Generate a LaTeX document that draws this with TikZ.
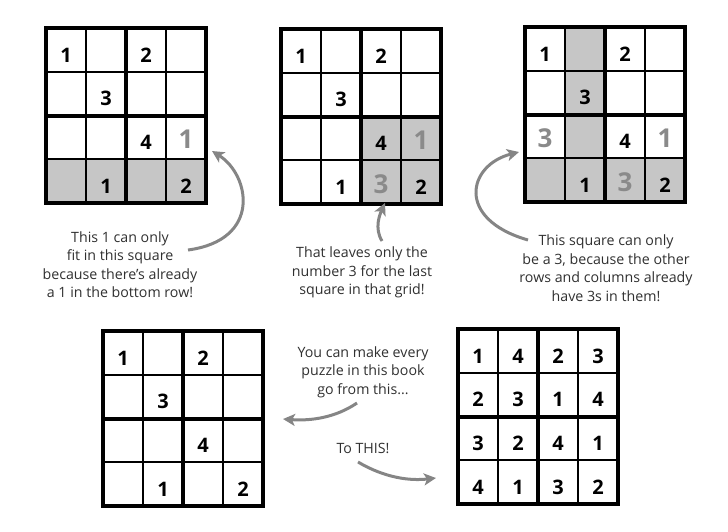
\documentclass[tikz,border=0pt]{standalone}
\usepackage{fontspec}
\setmainfont{Open Sans}
\usetikzlibrary{arrows.meta,backgrounds}

\definecolor{shadegray}{HTML}{C6C6C6}
\definecolor{hintgray}{HTML}{8A8A8A}
\definecolor{arrowgray}{HTML}{858585}
\definecolor{textgray}{HTML}{303030}

% one 4x4 grid: name, left, top
\newcommand{\sgrid}[3]{%
  \foreach \ro in {1,...,4}
    \foreach \co in {1,...,4}
      \node[cell] (#1\ro\co) at ({#2+40*\co-20},{#3+43.75*\ro-21.875}) {};
  \draw[frame] (#111.north west) rectangle (#144.south east);
  \draw[frame] (#112.north east) -- (#142.south east);
  \draw[frame] (#121.south west) -- (#124.south east);
}

\begin{document}
\begin{tikzpicture}[x=1pt, y=-1pt,
    cell/.style={draw, line width=1.6pt, minimum width=40pt, minimum height=43.75pt, inner sep=0pt, outer sep=0pt},
    frame/.style={line width=4pt},
    num/.style={font=\fontsize{20}{20}\selectfont\bfseries, inner sep=0pt},
    hint/.style={font=\fontsize{26}{26}\selectfont\bfseries, inner sep=0pt, text=hintgray},
    note/.style={align=center, text=textgray, font=\fontsize{14.2}{18.5}\selectfont, inner sep=0pt},
    pointer/.style={draw=arrowgray, line width=3pt, -{Stealth[length=12pt, width=12pt, inset=3pt]}}]
  \useasboundingbox (0,0) rectangle (728,531);

  \sgrid{a}{46}{28}
  \sgrid{b}{281}{29}
  \sgrid{c}{525}{27}
  \sgrid{d}{103}{331}
  \sgrid{e}{458}{329}

  % shaded squares
  \begin{scope}[on background layer]
    \fill[shadegray] (a41.north west) rectangle (a44.south east);
    \fill[shadegray] (b33.north west) rectangle (b44.south east);
    \fill[shadegray] (c12.north west) rectangle (c42.south east);
    \fill[shadegray] (c41.north west) rectangle (c44.south east);
  \end{scope}

  % the puzzle
  \foreach \g in {a,b,c,d}
    \foreach \p/\d in {11/1, 13/2, 22/3, 33/4, 42/1, 44/2}
      \node[num] (n\g\p) at ([yshift=-5pt]\g\p) {\d};

  % worked-out squares
  \foreach \g/\p/\d in {a/34/1, b/34/1, b/43/3, c/31/3, c/34/1, c/43/3}
    \node[hint] (h\g\p) at ([yshift=-2pt]\g\p) {\d};

  % the solution
  \foreach \p/\d in {11/1, 12/4, 13/2, 14/3, 21/2, 22/3, 23/1, 24/4,
                     31/3, 32/2, 33/4, 34/1, 41/4, 42/1, 43/3, 44/2}
    \node[num] (ne\p) at ([yshift=-5pt]e\p) {\d};

  \node[note] (T1) at (120,264.5) {This 1 can only\\fit in this square\\because there’s already\\a 1 in the bottom row!};
  \node[note] (T2) at (362,272.5) {That leaves only the\\number 3 for the last\\square in that grid!};
  \node[note] (T3) at (606,268) {This square can only\\be a 3, because the other\\rows and columns already\\have 3s in them!};
  \node[note] (T4) at (363,372) {You can make every\\puzzle in this book\\go from this...};
  \node[note] (T5) at (363,448) {To THIS!};

  \coordinate (S1) at (188,250);
  \coordinate (E1) at (212,151);
  \coordinate (S2) at (382,241);
  \coordinate (E2) at (385,203);
  \coordinate (S3) at (528,240);
  \coordinate (E3) at (519,152);
  \coordinate (S4) at (357,403);
  \coordinate (E4) at (283,419);
  \coordinate (S5) at (358,462);
  \coordinate (E5) at (436,478);

  \draw[pointer] (S1) .. controls (262,240) and (250,175) .. (E1);
  \draw[pointer] (S2) .. controls (374,228) and (380,214) .. (E2);
  \draw[pointer] (S3) .. controls (455,219) and (468,165) .. (E3);
  \draw[pointer] (S4) .. controls (335,418) and (310,421) .. (E4);
  \draw[pointer] (S5) .. controls (385,478) and (410,481) .. (E5);
\end{tikzpicture}
\end{document}
